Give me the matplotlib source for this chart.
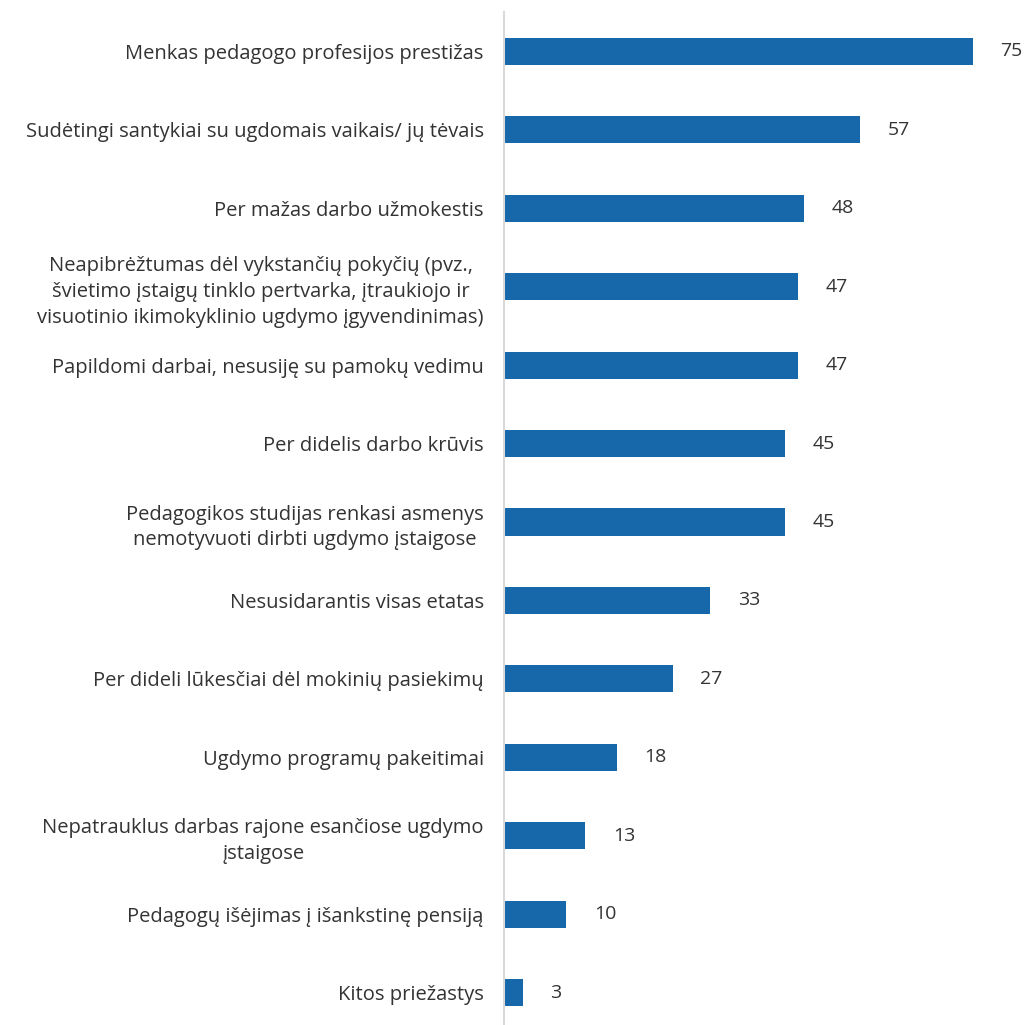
import matplotlib.pyplot as plt

labels = [
    "Menkas pedagogo profesijos prestižas",
    "Sudėtingi santykiai su ugdomais vaikais/ jų tėvais",
    "Per mažas darbo užmokestis",
    "Neapibrėžtumas dėl vykstančių pokyčių (pvz.,\nšvietimo įstaigų tinklo pertvarka, įtraukiojo ir\nvisuotinio ikimokyklinio ugdymo įgyvendinimas)",
    "Papildomi darbai, nesusiję su pamokų vedimu",
    "Per didelis darbo krūvis",
    "Pedagogikos studijas renkasi asmenys\nnemotyvuoti dirbti ugdymo įstaigose",
    "Nesusidarantis visas etatas",
    "Per dideli lūkesčiai dėl mokinių pasiekimų",
    "Ugdymo programų pakeitimai",
    "Nepatrauklus darbas rajone esančiose ugdymo\nįstaigose",
    "Pedagogų išėjimas į išankstinę pensiją",
    "Kitos priežastys",
]
values = [75, 57, 48, 47, 47, 45, 45, 33, 27, 18, 13, 10, 3]

plt.rcParams['font.family'] = ['Open Sans', 'DejaVu Sans']

fig = plt.figure(figsize=(10.26, 10.25), dpi=100)
ax = fig.add_axes([0.4912, 0.0, 0.5088, 0.9883])

ypos = list(range(len(values)))
ax.barh(ypos, values, height=0.345, color='#1668aa')
for y, v in zip(ypos, values):
    ax.text(v + 4.4, y, str(v), va='center', ha='left', fontsize=14, color='#333333')

ax.set_yticks(ypos)
ax.set_yticklabels(labels, fontsize=14.5, color='#333333', linespacing=1.38,
                   multialignment='center')
ax.tick_params(axis='y', length=0, pad=14.5)
ax.set_xticks([])
ax.set_xlim(0, 83.5)
ax.set_ylim(12.41, -0.5)

for s in ['top', 'right', 'bottom']:
    ax.spines[s].set_visible(False)
ax.spines['left'].set_color('#d9d9d9')
ax.spines['left'].set_linewidth(1.5)

fig.savefig('out.png', dpi=100)
